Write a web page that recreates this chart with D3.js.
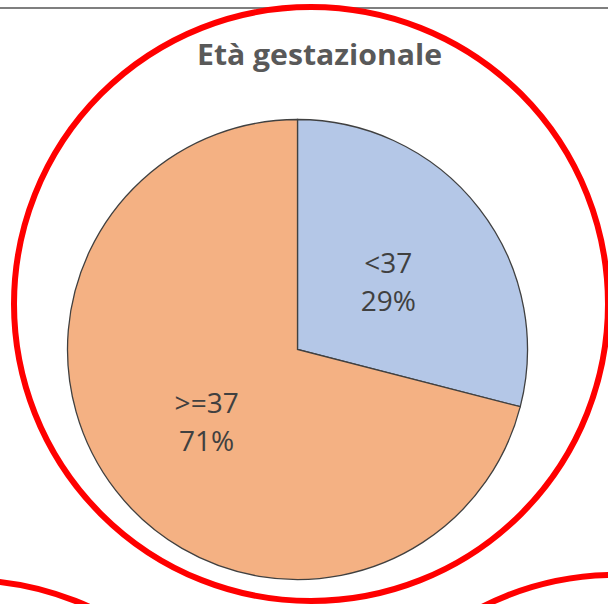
<!DOCTYPE html>
<html>
<head>
<meta charset="utf-8">
<script src="https://cdn.jsdelivr.net/npm/d3@7"></script>
<style>
  html, body { margin: 0; padding: 0; background: #fff; }
  svg { display: block; }
</style>
</head>
<body>
<div class="chart"></div>
<script>
// data
var categories = ["<37", ">=37"];
var values = [29, 71];
var percentLabels = ["29%", "71%"];
var sliceColors = ["#B4C7E7", "#F4B183"];
var titleText = "Età gestazionale";

var width = 608, height = 604;

var svg = d3.select(".chart")
  .append("svg")
  .attr("width", width)
  .attr("height", height);

// thin grey line at the top of the slide
svg.append("line")
  .attr("x1", 0).attr("x2", width)
  .attr("y1", 8).attr("y2", 8)
  .attr("stroke", "#7f7f7f")
  .attr("stroke-width", 2);

// pie
var cx = 297.5, cy = 349.5, radius = 230;

var pie = d3.pie()
  .sort(null)
  .value(function (d) { return d; });

var arc = d3.arc()
  .innerRadius(0)
  .outerRadius(radius);

var g = svg.append("g")
  .attr("transform", "translate(" + cx + "," + cy + ")");

var arcs = pie(values);

g.selectAll("path.slice")
  .data(arcs)
  .enter()
  .append("path")
  .attr("class", "slice")
  .attr("d", arc)
  .attr("fill", function (d, i) { return sliceColors[i]; })
  .attr("stroke", "#404040")
  .attr("stroke-width", 1.3);

// labels: category + percent at the centroid
var labels = g.selectAll("g.label")
  .data(arcs)
  .enter()
  .append("g")
  .attr("class", "label")
  .attr("transform", function (d) {
    var c = arc.centroid(d);
    return "translate(" + c[0] + "," + c[1] + ")";
  });

labels.append("text")
  .attr("y", -6.5)
  .attr("text-anchor", "middle")
  .style("font-family", "'Open Sans', sans-serif")
  .style("font-size", "28px")
  .style("fill", "#404040")
  .text(function (d, i) { return categories[i]; });

labels.append("text")
  .attr("y", 31.5)
  .attr("text-anchor", "middle")
  .style("font-family", "'Open Sans', sans-serif")
  .style("font-size", "28px")
  .style("fill", "#404040")
  .text(function (d, i) { return percentLabels[i]; });

// title
svg.append("text")
  .attr("x", 319.5)
  .attr("y", 65)
  .attr("text-anchor", "middle")
  .attr("textLength", 245)
  .attr("lengthAdjust", "spacingAndGlyphs")
  .style("font-family", "'Open Sans', sans-serif")
  .style("font-weight", 700)
  .style("font-size", "29px")
  .style("fill", "#595959")
  .text(titleText);

// red hand-drawn style circles
svg.append("circle")
  .attr("cx", 311).attr("cy", 304)
  .attr("r", 297)
  .attr("fill", "none")
  .attr("stroke", "#ff0000")
  .attr("stroke-width", 6);

svg.append("circle")
  .attr("cx", -34).attr("cy", 877)
  .attr("r", 297)
  .attr("fill", "none")
  .attr("stroke", "#ff0000")
  .attr("stroke-width", 6);

svg.append("circle")
  .attr("cx", 616).attr("cy", 872)
  .attr("r", 297)
  .attr("fill", "none")
  .attr("stroke", "#ff0000")
  .attr("stroke-width", 6);
</script>
</body>
</html>
